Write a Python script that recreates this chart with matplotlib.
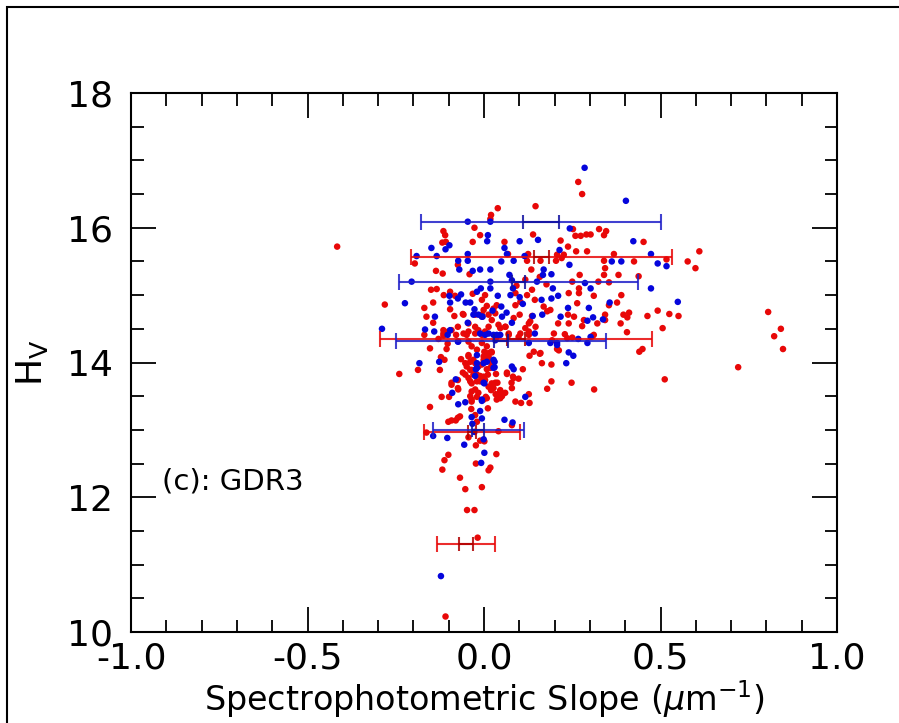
import matplotlib
matplotlib.use("Agg")
import matplotlib.pyplot as plt
from matplotlib.patches import Rectangle
from matplotlib.ticker import MultipleLocator

plt.rcParams['font.family'] = ['DejaVu Sans']
plt.rcParams['axes.unicode_minus'] = False

# ---- data: (slope, H_V) ----
red_pts = [
    (-0.027,16.00),(-0.115,15.95),(-0.11,15.89),(-0.118,15.78),(-0.108,15.79),(-0.032,15.79),(-0.196,15.47),
    (-0.074,15.45),(-0.136,15.36),(-0.117,15.32),(-0.041,15.31),(-0.15,15.08),(-0.134,15.09),(-0.114,15.00),
    (-0.096,15.05),(-0.082,14.99),(-0.032,15.02),(-0.281,14.86),(-0.144,14.89),(-0.169,14.81),(-0.096,14.79),
    (-0.163,14.68),(-0.084,14.69),(-0.06,14.72),(-0.144,14.59),(-0.074,14.53),(-0.115,14.48),(-0.025,14.53),
    (-0.169,14.41),(-0.129,14.35),(-0.115,14.40),(-0.079,14.41),(-0.049,14.41),(-0.103,14.28),(-0.153,14.21),
    (0.267,16.68),(0.278,16.50),(0.146,16.32),(0.039,16.29),(0.02,16.19),(0.018,16.13),(-0.011,15.89),
    (0.139,15.90),(0.252,15.98),(0.259,15.88),(0.274,15.88),(0.29,15.90),(0.058,15.79),(0.217,15.81),
    (0.238,15.72),(0.068,15.61),(0.125,15.61),(0.207,15.60),(0.226,15.60),(0.261,15.65),(0.292,15.65),
    (0.122,15.51),(0.16,15.51),(0.204,15.51),(0.22,15.55),(0.134,15.38),(0.117,15.23),(0.158,15.27),
    (0.271,15.30),(0.25,15.20),(0.092,15.14),(0.177,15.16),(0.269,15.10),(0.089,15.03),(0.122,15.00),
    (0.136,15.08),(0.24,15.03),(0.269,15.03),(0.003,15.00),(-0.006,14.93),(0.008,14.84),(0.144,14.93),
    (0.169,14.83),(0.188,14.78),(0.179,14.76),(0.264,14.88),(-0.006,14.71),(0.032,14.73),(0.101,14.71),
    (0.136,14.69),(0.238,14.71),(0.255,14.68),(0.013,14.53),(0.041,14.56),(0.061,14.53),(0.127,14.58),
    (0.21,14.58),(0.24,14.58),(0.278,14.54),(0.003,14.46),(0.07,14.41),(0.098,14.38),(0.127,14.41),
    (0.198,14.43),(0.229,14.42),
    (0.326,15.98),(0.346,15.95),(0.34,15.89),(0.302,15.90),(0.452,15.79),(0.368,15.61),(0.34,15.51),
    (0.425,15.50),(0.517,15.53),(0.577,15.50),(0.599,15.40),(0.61,15.65),(0.343,15.40),(0.34,15.30),
    (0.381,15.30),(0.438,15.28),(0.324,15.20),(0.354,15.19),(0.311,14.99),(0.389,15.00),(0.377,14.89),
    (0.354,14.85),(0.411,14.74),(0.395,14.71),(0.406,14.67),(0.343,14.71),(0.343,14.63),(0.321,14.58),
    (0.387,14.58),(0.463,14.69),(0.492,14.77),(0.525,14.72),(0.551,14.69),(0.506,14.51),(0.405,14.45),
    (0.311,14.41),(0.449,14.20),
    (0.805,14.75),(0.841,14.50),(0.822,14.39),(0.847,14.20),(0.72,13.93),(0.512,13.75),(0.44,14.16),
    (-0.24,13.83),(-0.187,13.89),(-0.122,14.08),(-0.112,14.04),(-0.125,13.89),(-0.065,14.05),(-0.053,13.99),
    (-0.044,14.11),(-0.03,14.04),(-0.092,13.70),(-0.074,13.74),(-0.06,13.85),(-0.039,13.89),(-0.03,13.82),
    (-0.02,13.72),(-0.039,13.72),(-0.074,13.62),(-0.035,13.57),(-0.12,13.49),(-0.099,13.49),(-0.035,13.45),
    (-0.02,13.49),(-0.153,13.34),(-0.036,13.31),(-0.025,13.22),(-0.101,13.12),(-0.092,13.14),(-0.08,13.14),
    (-0.074,13.18),(-0.068,13.20),(-0.02,13.12),(-0.044,12.89),(-0.023,12.77),(-0.101,12.63),(-0.112,12.55),
    (-0.023,12.50),(-0.118,12.41),(-0.068,12.29),(-0.053,12.12),(-0.048,11.81),(-0.027,11.81),(-0.163,12.96),
    (0.001,14.16),(0.013,14.14),(0.021,14.16),(-0.001,14.09),(0.008,14.04),(0.018,13.92),(0.022,13.94),
    (-0.011,13.80),(0.011,13.82),(0.034,13.83),(0.065,13.83),(0.082,13.79),(0.11,13.90),(0.129,14.10),
    (0.141,14.16),(0.158,14.13),(0.164,13.99),(0.191,13.97),(0.212,14.18),(0.078,13.70),(0.022,13.69),
    (0.038,13.70),(0.191,13.72),(0.179,13.61),(0.248,13.70),(0.02,13.59),(0.033,13.53),(0.041,13.52),
    (0.051,13.50),(0.046,13.57),(0.005,13.49),(0.127,13.53),(0.089,13.42),(0.105,13.40),(0.129,13.40),
    (0.011,13.32),(0.079,13.07),(0.041,12.98),(-0.011,12.84),(0.035,12.64),(0.018,12.44),(0.013,12.40),
    (-0.006,12.15),(0.001,12.83),(-0.018,11.40),(-0.109,10.23),(-0.416,15.72),
    (0.312,13.60),(0.307,14.39),(0.283,14.63),(0.207,14.20),(0.193,14.33),(0.236,14.36),(0.25,14.37),
    (0.16,14.14),
    (-0.058,14.71),(-0.044,14.58),(-0.025,14.71),(-0.001,14.78),(0.013,14.71),(0.027,14.80),(0.036,14.85),
    (0.022,14.63),(0.046,14.51),(0.06,14.53),(0.07,14.43),(0.084,14.66),(0.103,14.43),(0.117,14.51),
    (0.127,14.46),(0.089,14.85),(0.103,14.90),(0.131,14.61),(0.146,14.53),(-0.016,14.48),(-0.025,14.43),
    (-0.006,14.41),(-0.058,14.43),(-0.044,14.46),(-0.101,14.46),(-0.092,14.48),(-0.115,14.43),(-0.044,14.31),
    (-0.035,14.24),(-0.02,14.19),(-0.006,14.29),(0.008,14.24),(0.022,14.15),(0.013,14.09),(-0.106,14.20),
    (-0.044,14.09),(-0.039,14.01),(-0.025,13.99),(-0.016,13.94),(-0.001,14.04),(-0.006,13.97),(0.018,14.01),
    (-0.049,13.94),(-0.035,13.89),(-0.02,13.82),(-0.001,13.79),(0.008,13.90),(-0.053,13.82),(-0.044,13.77),
    (-0.035,13.69),(-0.011,13.72),(0.003,13.74),(0.013,13.64),(0.027,13.62),(0.032,13.70),(-0.025,13.60),
    (-0.016,13.55),(-0.001,13.45),(0.008,13.47),(0.036,13.45),(0.046,13.47),(-0.073,13.60),(-0.092,13.67),
    (-0.039,13.50),(-0.035,13.42),(0.046,13.59),(0.06,13.55),(0.079,13.62),(0.065,13.85),(0.084,13.77),
    (0.098,13.76),
]

blue_pts = [
    (-0.046,16.09),(-0.149,15.70),(-0.098,15.74),(-0.109,15.68),(-0.191,15.58),(-0.134,15.58),(-0.046,15.61),
    (-0.073,15.51),(-0.046,15.51),(-0.07,15.38),(-0.032,15.36),(-0.205,15.20),(-0.224,14.88),(-0.098,14.99),
    (-0.065,15.01),(-0.074,14.95),(-0.096,14.89),(-0.052,14.89),(-0.039,14.89),(-0.027,14.79),(-0.139,14.68),
    (-0.046,14.59),(-0.167,14.49),(-0.096,14.48),(-0.289,14.50),(-0.141,14.46),(-0.103,14.41),(-0.074,14.31),
    (-0.02,15.05),
    (0.018,16.09),(0.011,15.89),(0.009,15.80),(0.101,15.80),(0.153,15.82),(0.058,15.70),(0.065,15.61),
    (0.115,15.58),(0.214,15.67),(0.049,15.50),(0.084,15.51),(0.242,15.45),(0.243,15.99),(-0.011,15.38),
    (0.018,15.38),(0.169,15.38),(0.191,15.31),(0.167,15.30),(0.072,15.30),(0.079,15.22),(0.018,15.20),
    (-0.009,15.10),(0.018,15.10),(0.082,15.10),(0.15,15.20),(0.195,15.10),(0.286,15.18),(0.039,14.99),
    (0.075,15.00),(0.101,14.97),(0.191,14.95),(0.21,14.99),(0.11,14.87),(0.163,14.93),(0.049,14.83),
    (0.024,14.77),(0.064,14.74),(0.238,14.81),(-0.004,14.68),(0.051,14.68),(0.138,14.69),(0.165,14.71),
    (0.079,14.59),(0.217,14.68),(0.013,14.43),(0.036,14.41),(0.144,14.43),(0.188,14.29),(0.207,14.26),
    (0.402,16.40),(0.423,15.80),(0.473,15.61),(0.362,15.50),(0.389,15.50),(0.492,15.47),(0.517,15.43),
    (0.302,15.10),(0.473,15.10),(0.549,14.90),(0.356,14.89),(0.297,14.81),(0.309,14.67),(0.337,14.64),
    (0.302,14.38),(0.285,16.89),
    (-0.183,13.99),(-0.127,14.01),(-0.02,13.99),(-0.023,13.90),(-0.08,13.75),(-0.09,13.55),(-0.073,13.38),
    (-0.053,13.41),(-0.035,13.19),(-0.033,13.09),(-0.144,12.91),(-0.104,12.88),(-0.056,12.78),(-0.027,12.97),
    (-0.001,13.99),(0.03,14.01),(0.03,13.93),(0.079,13.94),(0.084,13.90),(0.001,13.69),(0.24,14.15),
    (0.253,14.10),(0.233,13.99),(0.117,13.49),(-0.006,13.43),(-0.011,13.28),(-0.006,13.17),(0.058,13.15),
    (0.081,13.11),(-0.001,12.86),(0.001,12.66),(-0.008,12.51),(-0.122,10.83),
    (0.293,14.29),(0.207,14.29),(0.267,14.35),(0.293,14.62),(-0.016,14.71),(-0.006,14.68),(-0.03,14.71),
    (-0.011,14.43),(0.003,14.41),(0.027,14.41),(0.036,14.38),(0.046,14.41),(0.032,14.33),(-0.02,14.11),
    (0.008,14.01),(-0.02,13.92),(-0.025,13.80),(-0.001,13.70),(-0.006,13.45),(0.027,14.04),(0.027,13.92),
    (-0.073,14.31),(0.127,14.29),
]

# binned means with std (outer caps) and standard error (inner caps)
red_bar_h    = [15.56, 14.35, 12.975, 11.31]
red_bar_mean = [0.163, 0.090, -0.034, -0.050]
red_bar_std  = [0.370, 0.385, 0.135, 0.082]
red_bar_sem  = [0.020, 0.025, 0.010, 0.020]

blue_bar_h    = [16.08, 15.20, 14.32, 13.00]
blue_bar_mean = [0.161, 0.097, 0.048, -0.016]
blue_bar_std  = [0.339, 0.338, 0.297, 0.128]
blue_bar_sem  = [0.051, 0.018, 0.021, 0.017]

xticks = [-1.0, -0.5, 0.0, 0.5, 1.0]
yticks = [10, 12, 14, 16, 18]

RED = '#e80808'
BLUE = '#0505dc'

fig = plt.figure(figsize=(8.99, 7.23), dpi=100)
ax = fig.add_axes([131/899, 1-632/723, (837-131)/899, (632-93)/723])

rx = [p[0] for p in red_pts]; ry = [p[1] for p in red_pts]
bx = [p[0] for p in blue_pts]; by = [p[1] for p in blue_pts]
ax.scatter(rx, ry, s=22, color=RED, edgecolors='none', zorder=2)
ax.scatter(bx, by, s=22, color=BLUE, edgecolors='none', zorder=2)

for h, m, sd, se in zip(red_bar_h, red_bar_mean, red_bar_std, red_bar_sem):
    ax.errorbar([m], [h], xerr=[sd], fmt='none', ecolor=RED, elinewidth=1.5,
                capsize=6, capthick=1.5, alpha=0.85, zorder=3)
    ax.errorbar([m], [h], xerr=[se], fmt='none', ecolor='#b00000', elinewidth=1.5,
                capsize=5, capthick=1.5, alpha=0.85, zorder=3)
for h, m, sd, se in zip(blue_bar_h, blue_bar_mean, blue_bar_std, blue_bar_sem):
    ax.errorbar([m], [h], xerr=[sd], fmt='none', ecolor='#2020c8', elinewidth=1.5,
                capsize=6, capthick=1.5, alpha=0.85, zorder=3)
    ax.errorbar([m], [h], xerr=[se], fmt='none', ecolor='#1010a0', elinewidth=1.5,
                capsize=5, capthick=1.5, alpha=0.85, zorder=3)

ax.set_xlim(-1.0, 1.0)
ax.set_ylim(10, 18)
ax.set_xticks(xticks)
ax.set_xticklabels([f"{v:.1f}" for v in xticks])
ax.set_yticks(yticks)
ax.set_yticklabels([str(v) for v in yticks])
ax.xaxis.set_minor_locator(MultipleLocator(0.1))
ax.yaxis.set_minor_locator(MultipleLocator(0.5))
ax.tick_params(which='both', direction='in', top=True, right=True, width=1.3, colors='black')
ax.tick_params(which='major', length=18, labelsize=26)
ax.tick_params(which='minor', length=9)
ax.tick_params(axis='x', which='major', pad=7)
ax.tick_params(axis='y', which='major', pad=13)
for s in ax.spines.values():
    s.set_linewidth(1.5)

ax.set_xlabel(r"Spectrophotometric Slope ($\mu$m$^{-1}$)", fontsize=24, labelpad=2)
ax.set_ylabel(r"H$_\mathrm{V}$", fontsize=26, labelpad=12)
ax.text(-0.912, 12.23, "(c): GDR3", fontsize=21, ha='left', va='center')

fig.patches.append(Rectangle((7/899, -0.2), 1.5, 1.2 - 7/723, transform=fig.transFigure,
                             fill=False, edgecolor='black', linewidth=1.5, zorder=0))

fig.savefig("out.png", dpi=100)
